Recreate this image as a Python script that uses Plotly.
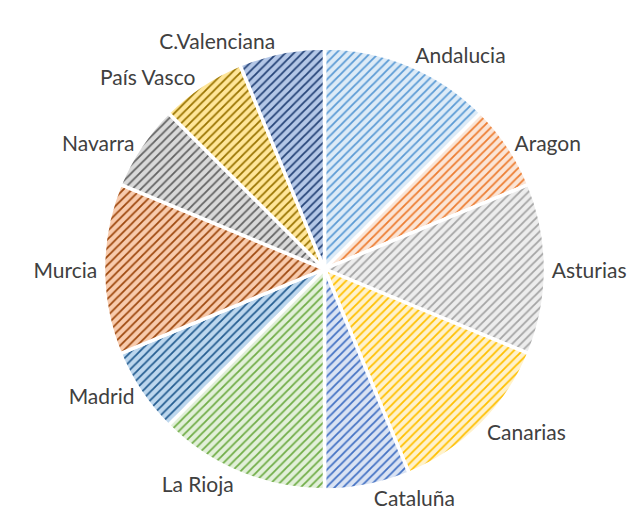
import plotly.graph_objects as go

regions = ["Andalucia", "Aragon", "Asturias", "Canarias", "Cataluña", "La Rioja",
           "Madrid", "Murcia", "Navarra", "País Vasco", "C.Valenciana"]
values = [2, 1, 2, 2, 1, 2, 1, 2, 1, 1, 1]

fg_colors = ["#5B9BD5", "#ED7D31", "#A5A5A5", "#FFC000", "#4472C4", "#70AD47",
             "#255E91", "#9E480E", "#636363", "#997300", "#264478"]
bg_colors = ["#DDEBF7", "#FBE5D6", "#EDEDED", "#FFF2CC", "#DAE3F3", "#E2F0D9",
             "#BDD7EE", "#F8CBAD", "#D9D9D9", "#FFE699", "#B4C7E7"]

fig = go.Figure(go.Pie(
    labels=regions,
    values=values,
    sort=False,
    direction="clockwise",
    rotation=0,
    textinfo="label",
    textposition="outside",
    outsidetextfont=dict(family="Lato, Carlito, Calibri, sans-serif", size=21, color="#404040"),
    marker=dict(
        colors=bg_colors,
        line=dict(color="white", width=3.5),
        pattern=dict(shape="/", fgcolor=fg_colors, bgcolor=bg_colors,
                     size=6, solidity=0.3, fillmode="replace"),
    ),
    showlegend=False,
    hoverinfo="label+value",
))

fig.update_layout(
    width=644, height=524,
    margin=dict(l=0, r=6, t=40, b=42),
    paper_bgcolor="white",
    plot_bgcolor="white",
)

fig.write_html("out.html")
